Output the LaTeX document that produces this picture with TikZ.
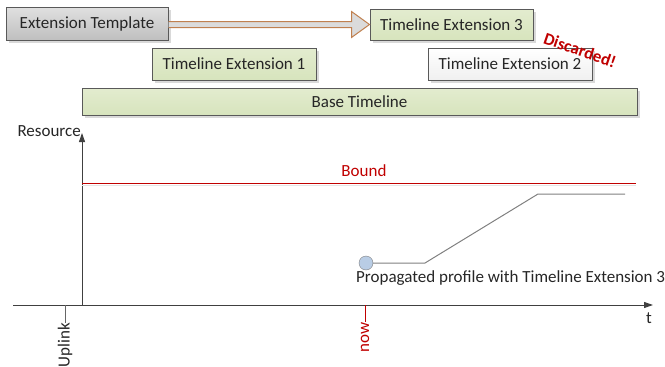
\documentclass[tikz,border=0pt]{standalone}
\usepackage{fontspec}
\setmainfont{Carlito}
\usetikzlibrary{arrows.meta,calc,shadows}
\definecolor{boxgreen}{HTML}{D7E4BD}
\definecolor{boxgreentop}{HTML}{E3ECCF}
\definecolor{arrowline}{HTML}{C0804F}
\definecolor{boundred}{HTML}{C00000}
\definecolor{dotblue}{HTML}{B9CDE5}

\begin{document}
\begin{tikzpicture}[x=1pt,y=-1pt,
  every node/.style={font=\fontsize{17}{20}\selectfont, text=black!85},
  tlbox/.style={draw=black!65, line width=1pt, inner sep=0pt,
    minimum width=164pt, minimum height=32pt,
    drop shadow={shadow xshift=2.5pt, shadow yshift=-2.5pt, fill=black!25, opacity=0.6}},
  greenbox/.style={tlbox, top color=boxgreentop, bottom color=boxgreen},
  graybox/.style={tlbox, top color=black!12, bottom color=black!25},
  whitebox/.style={tlbox, top color=white, bottom color=black!6},
  bigarrow/.style={draw=arrowline, fill=black!14, line width=1pt},
  axis/.style={draw=black!75, line width=1pt},
  tick/.style={line width=1pt},
  profile/.style={draw=black!50, line width=1pt}]
  \useasboundingbox (0,0) rectangle (665,367);

  % extension boxes
  \node[graybox, minimum width=162pt, minimum height=33pt] (tmpl) at (87,23.5) {Extension Template};
  \node[greenbox, minimum width=163pt, minimum height=31pt] (ext3) at (451.5,24.5) {Timeline Extension 3};
  \node[greenbox] (ext1) at (234,64) {Timeline Extension 1};
  \node[whitebox] (ext2) at (510,64) {Timeline Extension 2};
  \node[greenbox, minimum width=555pt, minimum height=27pt] (base) at (359.5,101.5) {Base Timeline};
  \node[text=boundred, font=\fontsize{17}{20}\selectfont\bfseries, rotate=-19] (disc) at (580,50) {Discarded!};

  % template -> extension 3
  \draw[bigarrow] ($(tmpl.east |- ext3.west)+(0,-3)$) -- ($(ext3.west)+(-18,-3)$)
    -- ($(ext3.west)+(-18,-13)$) -- (ext3.west) -- ($(ext3.west)+(-18,13)$)
    -- ($(ext3.west)+(-18,3)$) -- ($(tmpl.east |- ext3.west)+(0,3)$);

  % axes
  \coordinate (o) at (82,305);
  \coordinate (xs) at (13,305);
  \coordinate (xe) at (653,305);
  \coordinate (ye) at (82,133);
  \draw[axis, -{Triangle[length=9pt,width=6pt]}] (xs) -- (xe);
  \draw[axis, -{Triangle[length=9pt,width=6pt]}] (o) -- (ye);
  \node[anchor=east, inner sep=1pt] (res) at (82,131) {Resource};
  \node[anchor=base, inner sep=0pt] (t) at (649,323) {t};

  % bound
  \coordinate (b0) at (82,183);
  \coordinate (b1) at (636,183);
  \draw[black!10, line width=1pt] ($(b0)+(0,2)$) -- ($(b1)+(0,2)$);
  \draw[boundred, line width=1pt] (b0) -- (b1);
  \node[text=boundred] (bound) at (364,171) {Bound};

  % ticks
  \coordinate (up) at (65,323);
  \coordinate (nw) at (365,322);
  \draw[tick, black!60] (up |- o) -- (up);
  \draw[tick, boundred] (nw |- o) -- (nw);
  \node[rotate=90, anchor=east, inner sep=0pt] (uplink) at (up) {Uplink};
  \node[rotate=90, anchor=east, inner sep=0pt, text=boundred] (now) at (nw) {now};

  % propagated profile
  \node[circle, draw=black!50, fill=dotblue, minimum size=14pt, inner sep=0pt] (p0) at (366,263) {};
  \coordinate (p1) at (425,263);
  \coordinate (p2) at (538,194);
  \coordinate (p3) at (625,194);
  \draw[profile] (p0) -- (p1) -- (p2) -- (p3);
  \node[anchor=base west, inner sep=0pt] (plabel) at (356,282) {Propagated profile with Timeline Extension 3};
\end{tikzpicture}
\end{document}
